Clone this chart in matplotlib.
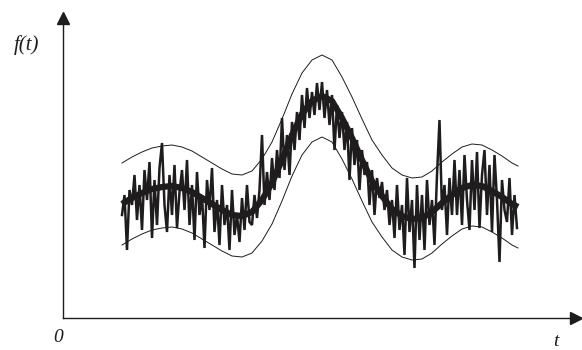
import matplotlib
matplotlib.use("Agg")
import matplotlib.pyplot as plt
import numpy as np

# ---- data (t, f units; origin at axis corner) ----
t_smooth = [59, 69, 79, 89, 99, 109, 119, 129, 139, 149, 159, 169, 179, 189, 199,
            209, 219, 229, 239, 249, 259, 269, 279, 289, 299, 309, 319, 329, 339,
            349, 359, 369, 379, 389, 399, 409, 419, 429, 439, 449, 455]
f_mean = [114, 120, 125, 129, 131, 132, 130, 126, 120, 114, 108, 103, 102, 106, 118,
          135, 158, 183, 204, 217, 222, 217, 200, 180, 158, 137, 122, 109, 102,
          99, 100, 106, 115, 123, 130, 133, 132, 127, 121, 114, 111]
f_upper = [155, 161, 166, 170, 172, 173, 171, 167, 161, 155, 149, 144, 143, 147, 159,
           176, 199, 224, 245, 258, 263, 258, 241, 221, 199, 178, 163, 150, 143,
           140, 141, 147, 156, 164, 171, 174, 173, 168, 162, 155, 152]
f_lower = [73, 79, 84, 88, 90, 91, 89, 85, 79, 73, 67, 62, 61, 65, 77,
           94, 117, 142, 163, 176, 181, 176, 159, 139, 117, 96, 81, 68, 61,
           58, 59, 65, 74, 82, 89, 92, 91, 86, 80, 73, 70]

t_noisy = np.arange(59, 454.1, 2.5)
f_noisy = [
    103, 123, 68, 128, 113, 143, 98, 133, 88, 148, 118, 156, 80, 138, 93, 150, 175, 113, 86, 143, 103, 153, 90, 126, 148, 108,
    158, 93, 133, 78, 146, 103, 123, 70, 138, 108, 150, 86, 118, 73, 133, 93, 113, 68, 128, 83, 103, 76, 120, 88, 133, 96,
    93, 123, 100, 128, 183, 113, 146, 118, 160, 128, 168, 140, 200, 148, 183, 143, 196, 168, 206, 178, 223, 190, 230, 200, 226, 203, 235,
    208, 236, 200, 228, 193, 223, 168, 213, 180, 206, 168, 196, 138, 190, 153, 178, 128, 168, 143, 156, 113, 148, 103, 140, 120, 136, 108,
    128, 93, 118, 80, 133, 88, 113, 63, 140, 86, 118, 50, 133, 78, 123, 68, 138, 93, 118, 73, 143, 198, 108, 133, 83, 140, 103,
    158, 103, 148, 93, 163, 118, 88, 158, 108, 166, 90, 143, 168, 103, 153, 86, 163, 118, 56, 138, 108, 96, 140, 83, 123, 90,
]

ink = "#1e1c1c"

fig = plt.figure(figsize=(5.82, 3.5), dpi=100)
ax = fig.add_axes([0, 0, 1, 1])
ax.set_xlim(-63, 519)
ax.set_ylim(-32, 318)

for s in ["top", "right"]:
    ax.spines[s].set_visible(False)
ax.spines["left"].set_position(("data", 0))
ax.spines["bottom"].set_position(("data", 0))
ax.spines["left"].set_bounds(0, 298)
ax.spines["bottom"].set_bounds(0, 510)
for s in ["left", "bottom"]:
    ax.spines[s].set_linewidth(1.0)
    ax.spines[s].set_color(ink)
ax.set_xticks([])
ax.set_yticks([])
ax.patch.set_alpha(0)

# arrow heads
ax.plot([0], [300], marker="^", color=ink, markersize=8, clip_on=False)
ax.plot([513], [0], marker=">", color=ink, markersize=8, clip_on=False)

ax.plot(t_smooth, f_upper, color=ink, lw=0.7)
ax.plot(t_smooth, f_lower, color=ink, lw=0.7)
ax.plot(t_noisy, f_noisy, color=ink, lw=1.8, solid_joinstyle="miter")
ax.plot(t_smooth, f_mean, color=ink, lw=4.5, solid_capstyle="butt")

serif = ["Liberation Serif", "DejaVu Serif"]
ax.text(-36, 273, "f(t)", family=serif, style="italic", fontsize=15, ha="center", va="center", color=ink)
ax.text(-5, -20, "0", family=serif, style="italic", fontsize=14, ha="center", va="center", color=ink)
ax.text(493, -24, "t", family=serif, style="italic", fontsize=14, ha="center", va="center", color=ink)

fig.savefig("out.png", dpi=100)
